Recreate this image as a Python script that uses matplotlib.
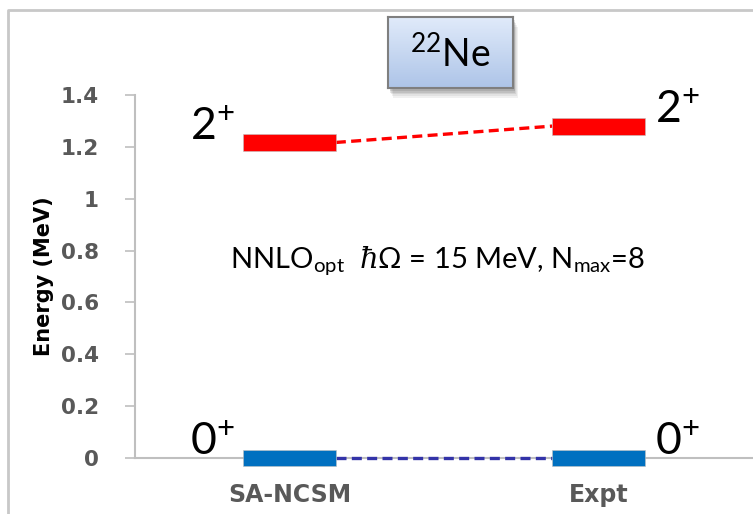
import numpy as np
import matplotlib.pyplot as plt
from matplotlib.lines import Line2D
from matplotlib.patches import Rectangle

plt.rcParams['font.family'] = ['Lato', 'DejaVu Sans']
plt.rcParams['mathtext.fontset'] = 'custom'
plt.rcParams['mathtext.rm'] = 'Lato'
plt.rcParams['mathtext.it'] = 'DejaVu Serif:italic'

# Level energies (MeV)
methods = ['SA-NCSM', 'Expt']
e_2plus = [1.217, 1.280]
e_0plus = [0.0, 0.0]
state_labels = ['2', '0']
level_colors = ['#ff0000', '#0070c0']
link_colors = ['#ff0000', '#3333a8']

W, H = 753, 514
fig = plt.figure(figsize=(W / 100, H / 100), dpi=100)

# frame lines at top and left
fig.add_artist(Line2D([8 / W, 8 / W, 1], [0, 1 - 10 / H, 1 - 10 / H],
                      transform=fig.transFigure, color='#c8c8c8', lw=2))

ax = fig.add_axes([135 / W, 56 / H, 618 / W, 363 / H])
x = np.arange(len(methods))
bw = 0.30
bh = 0.065

for energies, lab, col, lcol in zip([e_2plus, e_0plus], state_labels, level_colors, link_colors):
    ax.bar(x, bh, bottom=np.array(energies) - bh / 2, width=bw, color=col,
           edgecolor='#c0c0c0', linewidth=0.4, clip_on=False, zorder=4)
    ax.plot([x[0] + bw / 2, x[1] - bw / 2], energies, ls=(0, (3, 1.6)), color=lcol,
            lw=2.4, clip_on=False, zorder=3.5)
    ax.annotate(r'$\mathregular{%s^{+}}$' % lab, (x[0] - bw / 2, energies[0]),
                xytext=(-6, 2), textcoords='offset points', ha='right', va='baseline',
                fontsize=32, annotation_clip=False)
    ax.annotate(r'$\mathregular{%s^{+}}$' % lab, (x[1] + bw / 2, energies[1]),
                xytext=(7, 2), textcoords='offset points', ha='left', va='baseline',
                fontsize=32, annotation_clip=False)

bold = dict(family='DejaVu Sans', weight='bold')
ax.set_xlim(-0.5, 1.5)
ax.set_ylim(0, 1.4)
ax.set_yticks(np.arange(0, 1.41, 0.2))
ax.set_yticklabels(['0', '0.2', '0.4', '0.6', '0.8', '1', '1.2', '1.4'],
                   color='#595959', fontsize=15.5, **bold)
ax.set_xticks(x)
ax.set_xticklabels(methods, color='#595959', fontsize=17, **bold)
ax.tick_params(axis='y', length=7, width=1.2, color='#bfbfbf', pad=19)
ax.tick_params(axis='x', length=0, pad=18)
for s in ['top', 'right']:
    ax.spines[s].set_visible(False)
for s in ['left', 'bottom']:
    ax.spines[s].set_color('#bfbfbf')
    ax.spines[s].set_linewidth(1.5)
ax.set_ylabel('Energy (MeV)', fontsize=15, labelpad=5, **bold)

ax.text(0.48, 0.76, r'NNLO$_{\mathregular{opt}}$  $\hbar\Omega$ = 15 MeV, N$_{\mathregular{max}}$=8',
        ha='center', va='center', fontsize=21)

# nucleus label box with a drop shadow and a soft gradient
bx0, by0, bw_px, bh_px = 388, 17, 125, 71
for i, a in enumerate([0.08, 0.08, 0.10, 0.12, 0.14]):
    off = 12 - 2 * i
    fig.add_artist(Rectangle(((bx0 + off * 0.4) / W, 1 - (by0 + bh_px + off * 0.8) / H),
                             bw_px / W, bh_px / H, transform=fig.transFigure,
                             color='#404040', alpha=a, lw=0, zorder=1))
bax = fig.add_axes([bx0 / W, 1 - (by0 + bh_px) / H, bw_px / W, bh_px / H])
bax.set_zorder(5)
grad = np.linspace(0, 1, 100).reshape(-1, 1)
top = np.array([0.88, 0.92, 0.98])
bot = np.array([0.68, 0.77, 0.91])
img = top + (bot - top) * grad[..., None]
bax.imshow(img, aspect='auto', extent=[0, 1, 0, 1], origin='upper')
bax.set_xticks([])
bax.set_yticks([])
for s in bax.spines.values():
    s.set_color('#7f7f7f')
    s.set_linewidth(1.5)
bax.text(0.5, 0.48, r'$\mathregular{^{22}}$Ne', ha='center', va='center', fontsize=27,
         transform=bax.transAxes)

fig.savefig('out.png', dpi=100)
